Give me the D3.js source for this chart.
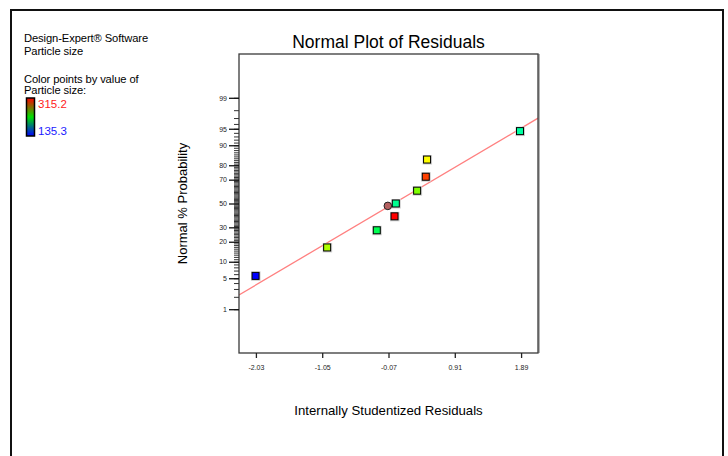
<!DOCTYPE html>
<html>
<head>
<meta charset="utf-8">
<script src="https://cdn.jsdelivr.net/npm/d3@7"></script>
<style>
  html, body { margin: 0; padding: 0; background: #fff; }
  svg text { font-family: "Liberation Sans", Arial, sans-serif; }
</style>
</head>
<body>
<svg id="chart" width="728" height="456"></svg>
<script>
// Internally studentized residuals of the particle-size model, sorted ascending
const residuals = [-2.035, -0.977, -0.243, 0.019, 0.038, 0.353, 0.481, 0.500, 1.874];
// Normal % probability of each ranked residual
const probabilities = [5.56, 16.67, 27.78, 38.89, 50.00, 61.11, 72.22, 83.33, 94.44];
// Particle size of each run, used for the point colours
const particleSize = [135.3, 256.0, 211.0, 315.2, 199.8, 247.7, 304.0, 270.2, 196.8];

// Highlighted run (drawn as a circle)
const highlightResidual = [-0.080];
const highlightProbability = [47.9];

// Reference line end points (residual, normal % probability)
const lineResidual = [-2.28, 2.14];
const lineProbability = [2.21, 96.98];

// Axis ticks
const xTicks = [-2.03, -1.05, -0.07, 0.91, 1.89];
const xTickLabels = ["-2.03", "-1.05", "-0.07", "0.91", "1.89"];
const yMajorTicks = [1, 5, 10, 20, 30, 50, 70, 80, 90, 95, 99];
const yMinorTicks = d3.range(1, 100);

// Colour legend range
const colorRange = [135.3, 315.2];

// Inverse standard normal CDF (Acklam's rational approximation)
function probit(p) {
  const a = [-3.969683028665376e+01, 2.209460984245205e+02, -2.759285104469687e+02,
             1.383577518672690e+02, -3.066479806614716e+01, 2.506628277459239e+00];
  const b = [-5.447609879822406e+01, 1.615858368580409e+02, -1.556989798598866e+02,
             6.680131188771972e+01, -1.328068155288572e+01];
  const c = [-7.784894002430293e-03, -3.223964580411365e-01, -2.400758277161838e+00,
             -2.549671669336263e+00, 4.374664141464968e+00, 2.938163982698783e+00];
  const d = [7.784695709041462e-03, 3.224671290700398e-01, 2.445134137142996e+00,
             3.754408661907416e+00];
  const pl = 0.02425;
  let q, r;
  if (p < pl) {
    q = Math.sqrt(-2 * Math.log(p));
    return (((((c[0]*q+c[1])*q+c[2])*q+c[3])*q+c[4])*q+c[5]) /
           ((((d[0]*q+d[1])*q+d[2])*q+d[3])*q+1);
  } else if (p <= 1 - pl) {
    q = p - 0.5; r = q * q;
    return (((((a[0]*r+a[1])*r+a[2])*r+a[3])*r+a[4])*r+a[5])*q /
           (((((b[0]*r+b[1])*r+b[2])*r+b[3])*r+b[4])*r+1);
  } else {
    q = Math.sqrt(-2 * Math.log(1 - p));
    return -(((((c[0]*q+c[1])*q+c[2])*q+c[3])*q+c[4])*q+c[5]) /
            ((((d[0]*q+d[1])*q+d[2])*q+d[3])*q+1);
  }
}
const z = pct => probit(pct / 100);

const svg = d3.select("#chart");

// Outer frame
svg.append("rect")
  .attr("x", 11).attr("y", 10).attr("width", 712).attr("height", 500)
  .attr("fill", "none").attr("stroke", "#111").attr("stroke-width", 2);

// Plot area
const plot = { left: 239, right: 538, top: 54, bottom: 353 };

const x = d3.scaleLinear().domain([-2.28, 2.14]).range([plot.left, plot.right]);
const y = d3.scaleLinear().domain([-3.29, 3.29]).range([plot.bottom, plot.top]);

const color = d3.scaleLinear().domain(colorRange).range([240, 0]);
const fillFor = v => d3.hsl(color(v), 1, 0.5).formatHex();

// Title
svg.append("text")
  .attr("x", (plot.left + plot.right) / 2).attr("y", 48)
  .attr("text-anchor", "middle").attr("font-size", 17.5).attr("fill", "#000")
  .text("Normal Plot of Residuals");

// Clip for the reference line
svg.append("clipPath").attr("id", "plotClip")
  .append("rect")
  .attr("x", plot.left).attr("y", plot.top)
  .attr("width", plot.right - plot.left).attr("height", plot.bottom - plot.top);

// Reference line
const linePts = lineResidual.map((r, i) => [r, lineProbability[i]]);
svg.append("path")
  .datum(linePts)
  .attr("clip-path", "url(#plotClip)")
  .attr("fill", "none").attr("stroke", "#ff8080").attr("stroke-width", 1.3)
  .attr("d", d3.line().x(d => x(d[0])).y(d => y(z(d[1]))));

// Plot box (with a soft grey shadow on the right)
svg.append("line")
  .attr("x1", plot.right + 1).attr("x2", plot.right + 1)
  .attr("y1", plot.top).attr("y2", plot.bottom)
  .attr("stroke", "#9a9a9a").attr("stroke-width", 1.5);
svg.append("rect")
  .attr("x", plot.left).attr("y", plot.top)
  .attr("width", plot.right - plot.left).attr("height", plot.bottom - plot.top)
  .attr("fill", "none").attr("stroke", "#3a3a3a").attr("stroke-width", 1.3);

// X axis
const xAxis = d3.axisBottom(x)
  .tickValues(xTicks)
  .tickSize(5).tickPadding(7)
  .tickFormat((d, i) => xTickLabels[i]);
const gx = svg.append("g").attr("transform", `translate(0,${plot.bottom})`).call(xAxis);
gx.select(".domain").remove();
gx.selectAll(".tick line").attr("stroke", "#222").attr("stroke-width", 1.3);
gx.selectAll(".tick text").attr("font-size", 7).attr("fill", "#222")
  .attr("font-family", "Liberation Sans, Arial, sans-serif");

// Y axis: minor ticks at every percent, longer labelled major ticks
const yMinor = d3.axisLeft(y)
  .tickValues(yMinorTicks.map(z))
  .tickSize(5).tickFormat("");
const gyMinor = svg.append("g").attr("transform", `translate(${plot.left},0)`).call(yMinor);
gyMinor.select(".domain").remove();
gyMinor.selectAll(".tick line").attr("stroke", "#333").attr("stroke-width", 1);

const yMajor = d3.axisLeft(y)
  .tickValues(yMajorTicks.map(z))
  .tickSize(10).tickPadding(2)
  .tickFormat((d, i) => String(yMajorTicks[i]));
const gyMajor = svg.append("g").attr("transform", `translate(${plot.left},0)`).call(yMajor);
gyMajor.select(".domain").remove();
gyMajor.selectAll(".tick line").attr("stroke", "#111").attr("stroke-width", 1.3);
gyMajor.selectAll(".tick text").attr("font-size", 7).attr("fill", "#222")
  .attr("font-family", "Liberation Sans, Arial, sans-serif");

// Axis titles
svg.append("text")
  .attr("x", (plot.left + plot.right) / 2).attr("y", 415)
  .attr("text-anchor", "middle").attr("font-size", 13.2).attr("fill", "#000")
  .text("Internally Studentized Residuals");

svg.append("text")
  .attr("transform", `translate(187,${y(0)}) rotate(-90)`)
  .attr("text-anchor", "middle").attr("font-size", 13).attr("fill", "#000")
  .text("Normal % Probability");

// Residual points
const pts = residuals.map((r, i) => ({ r, p: probabilities[i], s: particleSize[i] }));
const size = 7;
const gPts = svg.append("g");
gPts.selectAll("rect.shadow").data(pts).join("rect")
  .attr("class", "shadow")
  .attr("x", d => x(d.r) - size / 2 - 1).attr("y", d => y(z(d.p)) - size / 2 - 1)
  .attr("width", size + 2.5).attr("height", size + 2.5)
  .attr("fill", "#d0d0d0");
gPts.selectAll("rect.pt").data(pts).join("rect")
  .attr("class", "pt")
  .attr("x", d => x(d.r) - size / 2).attr("y", d => y(z(d.p)) - size / 2)
  .attr("width", size).attr("height", size)
  .attr("fill", d => fillFor(d.s))
  .attr("stroke", "#000").attr("stroke-width", 1);

// Highlighted run
svg.append("g").selectAll("circle")
  .data(highlightResidual.map((r, i) => ({ r, p: highlightProbability[i] })))
  .join("circle")
  .attr("cx", d => x(d.r)).attr("cy", d => y(z(d.p)))
  .attr("r", 3.8)
  .attr("fill", "#b45f5f").attr("stroke", "#222").attr("stroke-width", 1);

// Legend text
const legendLines = [
  { t: "Design-Expert® Software", y: 42 },
  { t: "Particle size", y: 54.5 },
  { t: "Color points by value of", y: 82.5 },
  { t: "Particle size:", y: 94 }
];
svg.append("g").selectAll("text").data(legendLines).join("text")
  .attr("x", 24).attr("y", d => d.y)
  .attr("font-size", 11.2).attr("fill", "#000")
  .attr("letter-spacing", -0.1)
  .text(d => d.t);

// Colour bar
const grad = svg.append("defs").append("linearGradient")
  .attr("id", "sizeGrad").attr("x1", 0).attr("y1", 0).attr("x2", 0).attr("y2", 1);
grad.append("stop").attr("offset", "0%").attr("stop-color", "#ff0000");
grad.append("stop").attr("offset", "50%").attr("stop-color", "#00e000");
grad.append("stop").attr("offset", "100%").attr("stop-color", "#0000ff");

svg.append("rect")
  .attr("x", 26.5).attr("y", 98).attr("width", 8).attr("height", 38)
  .attr("fill", "url(#sizeGrad)").attr("stroke", "#000").attr("stroke-width", 1.5);

svg.append("text").attr("x", 38).attr("y", 107.5)
  .attr("font-size", 11.5).attr("fill", "#ff1a1a").text(colorRange[1].toFixed(1));
svg.append("text").attr("x", 38).attr("y", 134.5)
  .attr("font-size", 11.5).attr("fill", "#1a1aff").text(colorRange[0].toFixed(1));
</script>
</body>
</html>
